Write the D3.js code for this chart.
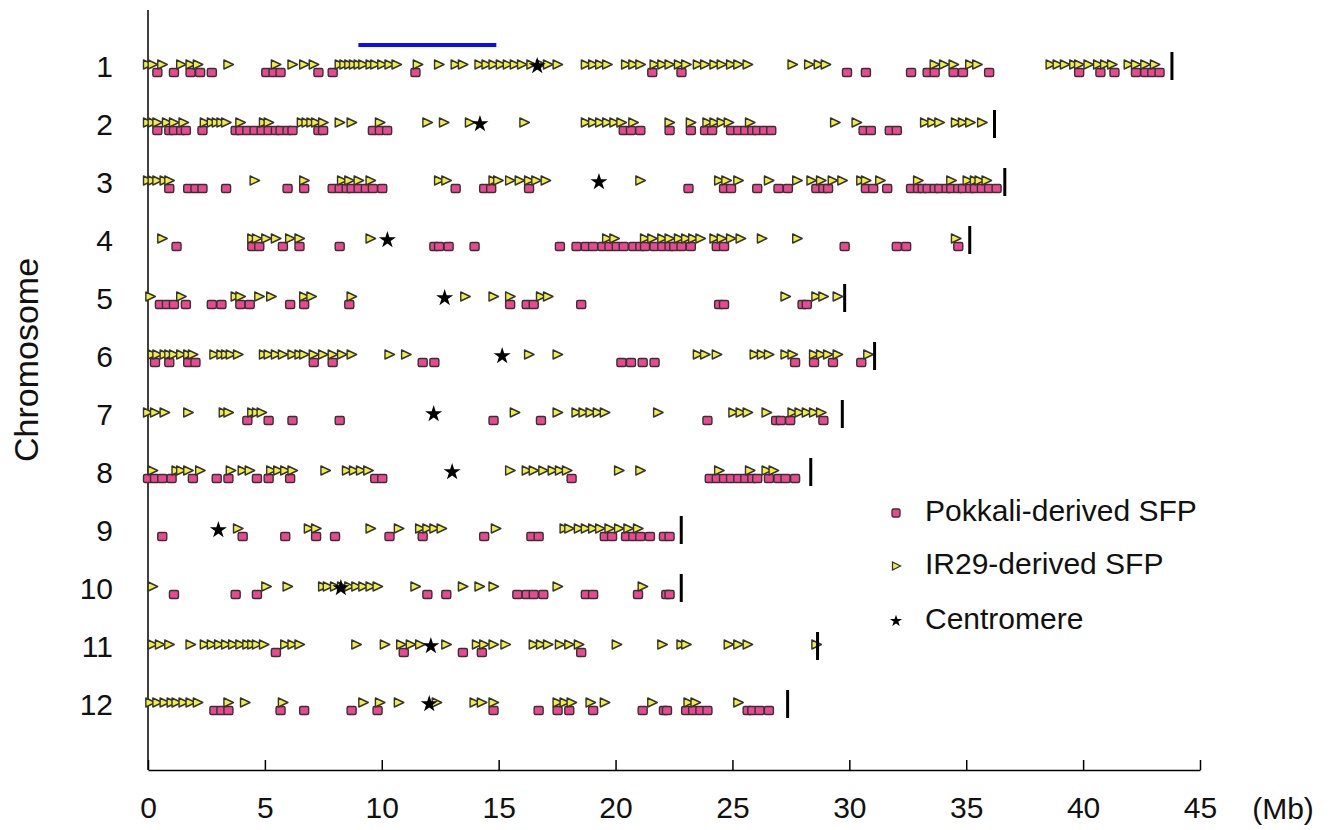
<!DOCTYPE html>
<html>
<head>
<meta charset="utf-8">
<script src="https://cdn.jsdelivr.net/npm/d3@7"></script>
<style>
  body { margin: 0; background: #fff; }
  text { font-family: "Liberation Sans", Arial, sans-serif; }
</style>
</head>
<body>
<svg id="chart"></svg>
<script>
// chromosome data, positions in Mb
const chromosomes = [1, 2, 3, 4, 5, 6, 7, 8, 9, 10, 11, 12];
const chrLength = [43.8, 36.21, 36.65, 35.15, 29.8, 31.08, 29.7, 28.35, 22.81, 22.81, 28.64, 27.36];
const centromere = [16.65, 14.2, 19.29, 10.24, 12.69, 15.15, 12.22, 13.01, 3.01, 8.25, 12.1, 12.03];
const xTicks = [0, 5, 10, 15, 20, 25, 30, 35, 40, 45];

// Pokkali-derived SFP (squares)
const pokkali = [
  [0.4, 1.11, 1.82, 2.23, 2.73, 5.06, 5.37, 5.67, 7.29, 7.9, 11.44, 21.57, 22.82, 29.9, 30.71, 32.64, 33.35, 33.65, 34.46, 34.86, 35.98, 39.83, 40.74, 41.34, 42.26, 42.66, 42.96, 43.27],
  [0.4, 0.91, 1.11, 1.42, 1.62, 2.33, 3.75, 3.95, 4.25, 4.56, 4.86, 5.16, 5.47, 5.67, 5.97, 6.18, 7.29, 7.49, 9.62, 9.92, 10.23, 20.35, 20.66, 21.06, 22.31, 23.22, 23.83, 24.13, 24.94, 25.25, 25.55, 25.85, 26.06, 26.36, 26.66, 30.61, 30.92, 31.73, 32.03],
  [0.91, 1.72, 2.03, 2.33, 3.34, 5.97, 6.68, 7.9, 8.2, 8.5, 8.71, 9.01, 9.32, 9.62, 10.02, 13.16, 14.38, 14.68, 16.3, 23.12, 24.64, 24.94, 26.06, 26.97, 27.37, 28.59, 28.89, 29.09, 30.71, 31.02, 31.62, 32.64, 32.94, 33.14, 33.35, 33.65, 33.85, 34.16, 34.36, 34.66, 34.86, 35.17, 35.37, 35.67, 35.98, 36.3],
  [1.22, 4.46, 4.76, 5.77, 6.48, 8.2, 12.25, 12.45, 12.86, 13.97, 17.62, 18.33, 18.73, 19.04, 19.44, 19.74, 20.05, 20.35, 20.76, 21.06, 21.26, 21.67, 22.0, 22.31, 22.51, 22.82, 23.22, 24.33, 24.64, 29.8, 32.03, 32.43, 34.66],
  [0.51, 0.81, 1.11, 1.62, 2.73, 3.14, 3.95, 4.35, 6.08, 6.68, 8.61, 15.49, 16.2, 16.5, 18.53, 24.43, 24.64, 28.0, 28.18],
  [0.3, 0.91, 1.72, 2.03, 7.09, 7.9, 11.75, 12.25, 20.25, 20.66, 21.16, 21.67, 27.68, 28.49, 29.3, 30.51],
  [4.25, 5.16, 6.18, 8.2, 14.78, 16.81, 23.93, 26.87, 27.07, 27.47, 28.89],
  [0.0, 0.3, 0.61, 1.01, 1.92, 2.94, 3.44, 4.66, 5.16, 6.08, 9.72, 10.02, 18.12, 24.03, 24.33, 24.64, 24.94, 25.25, 25.55, 25.85, 26.06, 26.56, 26.97, 27.27, 27.68],
  [0.61, 4.05, 5.87, 7.19, 8.0, 10.33, 11.75, 14.38, 16.4, 16.71, 19.54, 19.85, 20.45, 20.76, 21.06, 21.47, 22.07, 22.31],
  [1.11, 3.75, 4.66, 11.95, 12.76, 15.8, 16.2, 16.5, 16.91, 18.73, 19.04, 20.96, 22.17, 22.31],
  [5.47, 10.94, 13.47, 14.28, 18.53],
  [2.84, 3.14, 3.44, 5.67, 6.68, 8.71, 9.82, 14.78, 16.71, 17.52, 18.02, 19.04, 21.16, 22.07, 22.2, 23.02, 23.32, 23.63, 23.93, 25.65, 25.85, 26.16, 26.56]
];

// IR29-derived SFP (triangles)
const ir29 = [
  [0.0, 0.2, 0.61, 1.42, 1.82, 2.13, 3.44, 5.47, 6.18, 6.68, 7.09, 8.2, 8.4, 8.61, 8.81, 9.01, 9.21, 9.52, 9.72, 10.02, 10.33, 10.63, 11.54, 12.45, 13.16, 13.47, 14.18, 14.48, 14.78, 15.09, 15.39, 15.69, 16.0, 16.4, 16.81, 17.11, 17.52, 18.73, 19.04, 19.34, 19.64, 20.45, 20.76, 21.06, 21.67, 22.0, 22.31, 22.71, 23.02, 23.52, 23.83, 24.23, 24.54, 24.94, 25.25, 25.65, 27.57, 28.28, 28.69, 28.99, 33.65, 34.05, 34.46, 35.17, 35.47, 38.61, 38.91, 39.22, 39.62, 39.83, 40.23, 40.64, 40.94, 41.24, 41.95, 42.26, 42.66, 43.07],
  [0.0, 0.2, 0.4, 0.81, 1.11, 1.52, 2.43, 2.73, 2.94, 3.14, 3.34, 3.95, 4.96, 5.16, 6.58, 6.78, 6.99, 7.19, 7.49, 8.2, 8.71, 9.92, 11.95, 12.66, 13.77, 16.1, 18.73, 19.04, 19.34, 19.64, 19.95, 20.25, 20.76, 22.31, 23.22, 23.93, 24.23, 24.54, 24.84, 25.75, 29.39, 30.31, 33.24, 33.55, 33.85, 34.56, 34.86, 35.17, 35.68],
  [0.0, 0.2, 0.4, 0.71, 0.91, 4.56, 6.68, 8.3, 8.61, 9.01, 9.52, 12.45, 12.76, 14.78, 14.98, 15.49, 15.9, 16.3, 16.61, 17.01, 21.06, 24.43, 24.74, 25.25, 26.56, 27.77, 28.38, 28.79, 29.29, 29.7, 30.51, 30.71, 31.32, 32.94, 34.36, 35.06, 35.37, 35.57, 35.87],
  [0.61, 4.46, 4.66, 5.06, 5.47, 6.08, 6.48, 9.52, 19.64, 19.95, 21.26, 21.57, 22.0, 22.31, 22.71, 23.02, 23.32, 23.63, 24.23, 24.54, 24.94, 25.35, 26.26, 27.77, 34.56],
  [0.1, 1.42, 3.75, 3.95, 4.76, 5.27, 6.68, 6.99, 8.71, 13.57, 14.78, 15.49, 16.81, 17.11, 27.27, 28.59, 28.89, 29.5],
  [0.2, 0.4, 0.71, 0.91, 1.11, 1.42, 1.72, 1.92, 2.84, 3.14, 3.34, 3.54, 3.85, 4.96, 5.16, 5.47, 5.77, 6.18, 6.48, 6.68, 7.09, 7.49, 7.9, 8.3, 8.71, 10.33, 11.04, 16.3, 17.52, 23.52, 23.83, 24.33, 25.95, 26.26, 26.56, 27.27, 27.57, 28.49, 28.79, 29.09, 29.5, 30.81],
  [0.0, 0.3, 0.71, 1.72, 3.24, 3.44, 4.46, 4.66, 4.86, 15.69, 17.52, 18.33, 18.63, 18.93, 19.24, 19.54, 21.82, 25.04, 25.35, 25.65, 26.46, 27.57, 27.87, 28.18, 28.49, 28.79],
  [0.2, 1.22, 1.42, 1.72, 2.23, 3.54, 4.05, 4.35, 5.27, 5.57, 5.87, 6.18, 7.59, 8.51, 8.81, 9.11, 9.42, 15.49, 16.2, 16.5, 16.91, 17.31, 17.62, 17.92, 20.15, 21.06, 24.43, 25.75, 26.46, 26.76],
  [3.85, 6.88, 7.19, 9.52, 10.73, 11.64, 11.95, 12.25, 12.56, 14.88, 17.82, 18.02, 18.43, 18.73, 19.04, 19.34, 19.74, 20.15, 20.55, 20.96],
  [0.2, 5.06, 5.97, 7.49, 7.69, 8.0, 8.3, 8.61, 8.91, 9.21, 9.52, 9.82, 11.44, 13.47, 14.18, 14.78, 17.52, 21.16],
  [0.2, 0.51, 0.91, 1.82, 2.43, 2.73, 3.04, 3.34, 3.64, 3.95, 4.25, 4.46, 4.66, 4.96, 5.87, 6.18, 6.48, 8.91, 10.13, 10.83, 11.24, 11.64, 12.76, 14.07, 14.38, 14.78, 15.29, 16.5, 16.81, 17.11, 17.62, 18.02, 18.43, 20.05, 22.0, 22.82, 23.02, 24.84, 25.25, 25.65, 28.59],
  [0.1, 0.4, 0.71, 1.01, 1.22, 1.52, 1.82, 2.13, 3.44, 4.15, 5.77, 9.21, 9.92, 10.73, 12.35, 13.97, 14.28, 14.78, 17.52, 17.82, 18.12, 18.93, 19.54, 21.57, 23.12, 23.42, 25.25]
];

const legendItems = ["Pokkali-derived SFP", "IR29-derived SFP", "Centromere"];

const width = 1330, height = 830;
const fontSize = 30;
const pinkFill = "#ec4790", yellowFill = "#f2ef3a", markStroke = "#333";

const svg = d3.select("#chart").attr("width", width).attr("height", height);

const x = d3.scaleLinear().domain([0, 45]).range([148, 1200]);
const y = d3.scalePoint().domain(chromosomes).range([66, 704]);

// axes
svg.append("line")
  .attr("x1", 148).attr("x2", 148)
  .attr("y1", 10).attr("y2", 770)
  .attr("stroke", "#000").attr("stroke-width", 1.5);

const xAxis = svg.append("g")
  .attr("transform", "translate(0,770)")
  .call(d3.axisBottom(x).tickValues(xTicks).tickSizeInner(-10).tickSizeOuter(0).tickPadding(27));
xAxis.select(".domain").attr("stroke", "#000").attr("stroke-width", 1.5);
xAxis.selectAll(".tick line").attr("stroke", "#000").attr("stroke-width", 1.5);
xAxis.selectAll(".tick text")
  .attr("font-size", fontSize)
  .attr("font-family", "Liberation Sans, Arial, sans-serif")
  .attr("fill", "#111");

svg.append("text")
  .attr("x", 1283).attr("y", 808)
  .attr("text-anchor", "middle").attr("dy", "0.35em")
  .attr("font-size", fontSize).attr("fill", "#111")
  .text("(Mb)");

// chromosome labels
svg.selectAll(".chr-label")
  .data(chromosomes)
  .join("text")
  .attr("class", "chr-label")
  .attr("x", 113)
  .attr("y", d => y(d))
  .attr("dy", "0.35em")
  .attr("text-anchor", "end")
  .attr("font-size", fontSize).attr("fill", "#111")
  .text(d => d);

svg.append("text")
  .attr("transform", "translate(26,360) rotate(-90)")
  .attr("text-anchor", "middle").attr("dy", "0.35em")
  .attr("font-size", 34).attr("fill", "#111")
  .text("Chromosome");

// scale bar in blue
svg.append("line")
  .attr("x1", x(9.0)).attr("x2", x(14.9))
  .attr("y1", 45).attr("y2", 45)
  .attr("stroke", "#0a0aff").attr("stroke-width", 4);

const triPath = "M-4.5,-4.5L5,0L-4.5,4.5Z";
const star = d3.symbol().type(d3.symbolStar);

chromosomes.forEach((c, i) => {
  const g = svg.append("g").attr("class", "chr");
  const yc = y(c);

  // squares below
  g.selectAll(".sq")
    .data(pokkali[i])
    .join("rect")
    .attr("class", "sq")
    .attr("x", d => x(d) - 4.5)
    .attr("y", yc + 2.5)
    .attr("width", 9).attr("height", 8)
    .attr("rx", 1.5)
    .attr("fill", pinkFill)
    .attr("stroke", markStroke).attr("stroke-width", 1.4);

  // triangles above
  g.selectAll(".tri")
    .data(ir29[i])
    .join("path")
    .attr("class", "tri")
    .attr("d", triPath)
    .attr("transform", d => `translate(${x(d)},${yc - 1.5})`)
    .attr("fill", yellowFill)
    .attr("stroke", markStroke).attr("stroke-width", 1.4)
    .attr("stroke-linejoin", "round");

  // centromere
  g.append("path")
    .attr("d", star.size(90)())
    .attr("transform", `translate(${x(centromere[i])},${yc})`)
    .attr("fill", "#000");

  // chromosome end
  g.append("line")
    .attr("x1", x(chrLength[i])).attr("x2", x(chrLength[i]))
    .attr("y1", yc - 14).attr("y2", yc + 14)
    .attr("stroke", "#000").attr("stroke-width", 3);
});

// legend
const legend = svg.append("g").attr("transform", "translate(896,0)");
const legendY = [513, 566, 621];

legend.append("rect")
  .attr("x", -4).attr("y", legendY[0] - 4)
  .attr("width", 8).attr("height", 8).attr("rx", 1.5)
  .attr("fill", pinkFill).attr("stroke", markStroke).attr("stroke-width", 1.3);
legend.append("path")
  .attr("d", "M-3.5,-4L4.5,0L-3.5,4Z")
  .attr("transform", `translate(0,${legendY[1]})`)
  .attr("fill", yellowFill).attr("stroke", markStroke).attr("stroke-width", 1.3);
legend.append("path")
  .attr("d", star.size(45)())
  .attr("transform", `translate(0,${legendY[2]})`)
  .attr("fill", "#000");

legend.selectAll(".leg-text")
  .data(legendItems)
  .join("text")
  .attr("class", "leg-text")
  .attr("x", 29)
  .attr("y", (d, i) => legendY[i] - 3)
  .attr("dy", "0.35em")
  .attr("font-size", fontSize).attr("fill", "#111")
  .text(d => d);
</script>
</body>
</html>
